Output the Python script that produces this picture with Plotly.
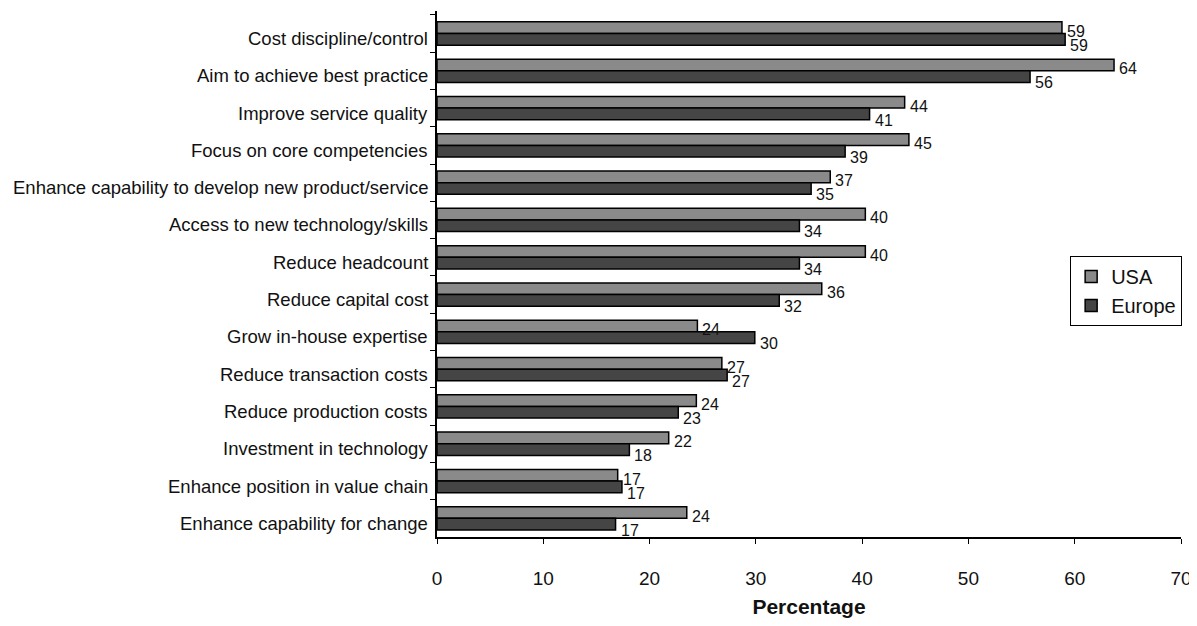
import plotly.graph_objects as go

categories = [
    "Cost discipline/control",
    "Aim to achieve best practice",
    "Improve service quality",
    "Focus on core competencies",
    "Enhance capability to develop new product/service",
    "Access to new technology/skills",
    "Reduce headcount",
    "Reduce capital cost",
    "Grow in-house expertise",
    "Reduce transaction costs",
    "Reduce production costs",
    "Investment in technology",
    "Enhance position in value chain",
    "Enhance capability for change",
]
usa_values = [58.8, 63.7, 44.0, 44.4, 37.0, 40.3, 40.3, 36.2, 24.5, 26.8, 24.4, 21.8, 17.0, 23.5]
europe_values = [59.1, 55.8, 40.7, 38.4, 35.2, 34.1, 34.1, 32.2, 29.9, 27.3, 22.7, 18.1, 17.4, 16.8]
usa_labels = [59, 64, 44, 45, 37, 40, 40, 36, 24, 27, 24, 22, 17, 24]
europe_labels = [59, 56, 41, 39, 35, 34, 34, 32, 30, 27, 23, 18, 17, 17]
x_ticks = [0, 10, 20, 30, 40, 50, 60, 70]

FONT = "Liberation Sans, Arial, sans-serif"
USA_COLOR = "#8a8a8a"
EUR_COLOR = "#454545"

fig = go.Figure()
fig.add_trace(go.Bar(
    name="USA", y=categories, x=usa_values, orientation="h",
    marker=dict(color=USA_COLOR, line=dict(color="black", width=1.5)),
    hoverinfo="x+y",
))
fig.add_trace(go.Bar(
    name="Europe", y=categories, x=europe_values, orientation="h",
    marker=dict(color=EUR_COLOR, line=dict(color="black", width=1.5)),
    hoverinfo="x+y",
))

annotations = []
# category labels (drawn slightly below the group centre, as in the original)
for cat in categories:
    annotations.append(dict(x=0, y=cat, xref="paper", yref="y", text=cat,
                            showarrow=False, xanchor="right", yanchor="middle",
                            xshift=-7, yshift=-5,
                            font=dict(family=FONT, size=18.5, color="#111")))
for cat, v, lab in zip(categories, usa_values, usa_labels):
    annotations.append(dict(x=v, y=cat, xref="x", yref="y", text=str(lab),
                            showarrow=False, xanchor="left", yanchor="middle",
                            xshift=3, yshift=2,
                            font=dict(family=FONT, size=16, color="#111")))
for cat, v, lab in zip(categories, europe_values, europe_labels):
    annotations.append(dict(x=v, y=cat, xref="x", yref="y", text=str(lab),
                            showarrow=False, xanchor="left", yanchor="middle",
                            xshift=3, yshift=-12,
                            font=dict(family=FONT, size=16, color="#111")))

fig.update_layout(
    width=1189, height=610,
    margin=dict(l=429, r=16, t=3, b=81),
    paper_bgcolor="white", plot_bgcolor="white",
    barmode="group", bargap=0.376, bargroupgap=0,
    font=dict(family=FONT, color="#111"),
    showlegend=True,
    legend=dict(x=0.851, y=0.534, xanchor="left", yanchor="top",
                bordercolor="black", borderwidth=1, bgcolor="white",
                font=dict(family=FONT, size=20, color="#111"),
                traceorder="normal", itemwidth=30, tracegroupgap=0),
    annotations=annotations,
    xaxis=dict(range=[0, 70], tickvals=x_ticks, showgrid=False, zeroline=False,
               showline=True, linecolor="black", linewidth=1.5,
               ticks="outside", ticklen=5, tickcolor="black",
               tickfont=dict(family=FONT, size=19, color="#111"),
               ticklabelstandoff=18,
               title=dict(text="<b>Percentage</b>", standoff=12,
                          font=dict(family=FONT, size=21, color="#111"))),
    yaxis=dict(autorange="reversed", showgrid=False, zeroline=False,
               showline=True, linecolor="black", linewidth=1.5,
               ticks="outside", ticklen=5, tickcolor="black", tickson="boundaries",
               showticklabels=False),
)

fig.write_html("out.html")
